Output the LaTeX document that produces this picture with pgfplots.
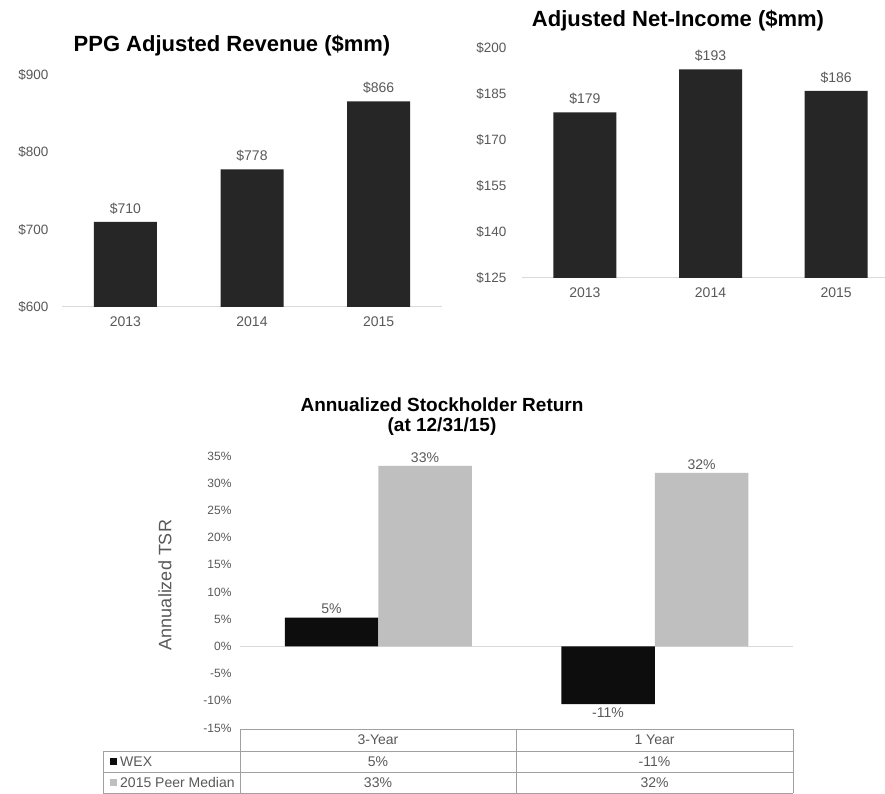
\documentclass[border=0pt]{standalone}
\usepackage{pgfplots}
\pgfplotsset{compat=1.18}
\usepackage{fontspec}
\setmainfont{Liberation Sans}
\definecolor{bardark}{HTML}{262626}
\definecolor{barblack}{HTML}{0D0D0D}
\definecolor{bargray}{HTML}{BFBFBF}
\definecolor{ticktxt}{HTML}{595959}
\definecolor{basegray}{HTML}{D9D9D9}
\definecolor{tablegray}{HTML}{A0A0A0}
\pgfplotsset{
  revstyle/.style={
    scale only axis, anchor=south west,
    xmin=-0.5, xmax=2.5,
    xtick={0,1,2}, xticklabels={2013,2014,2015},
    axis x line*=bottom, axis y line*=left,
    x axis line style={basegray, line width=1pt, -},
    y axis line style={draw=none},
    major tick length=0pt,
    ybar, bar width=63pt,
    /pgf/number format/assume math mode=true,
    xticklabel style={font=\fontsize{14}{16}\selectfont, text=ticktxt, yshift=-6pt},
    yticklabel style={font=\fontsize{13.5}{15}\selectfont, text=ticktxt, xshift=-10pt},
    point meta=y,
    nodes near coords={\$\pgfmathprintnumber{\pgfplotspointmeta}},
    nodes near coords style={font=\fontsize{14}{16}\selectfont, text=ticktxt, yshift=4pt},
    clip=false,
  }
}
\begin{document}
\begin{tikzpicture}[x=1pt,y=1pt]
\useasboundingbox (0,0) rectangle (885,794);
\fill[white] (0,0) rectangle (885,794);

% ---------- Chart 1 ----------
\node[font=\bfseries\fontsize{22}{24}\selectfont] at (232,748) {PPG Adjusted Revenue (\$mm)};
\begin{axis}[revstyle, at={(62pt,487pt)}, width=380pt, height=232pt,
  ymin=600, ymax=900, ytick={600,700,800,900},
  yticklabels={\$600,\$700,\$800,\$900}]
\addplot[fill=bardark, draw=none] coordinates {(0,710) (1,778) (2,866)};
\end{axis}

% ---------- Chart 2 ----------
\node[font=\bfseries\fontsize{22}{24}\selectfont] at (678,773) {Adjusted Net-Income (\$mm)};
\begin{axis}[revstyle, at={(522pt,516pt)}, width=377pt, height=230pt,
  ymin=125, ymax=200, ytick={125,140,155,170,185,200},
  yticklabels={\$125,\$140,\$155,\$170,\$185,\$200},
  yticklabel style={xshift=-2pt}]
\addplot[fill=bardark, draw=none] coordinates {(0,179) (1,193) (2,186)};
\end{axis}

% ---------- Chart 3 ----------
\node[font=\bfseries\fontsize{19}{21}\selectfont] at (442,389) {Annualized Stockholder Return};
\node[font=\bfseries\fontsize{19}{21}\selectfont] at (442,367) {(at 12/31/15)};
\node[rotate=90, font=\fontsize{18}{20}\selectfont, text=ticktxt] at (165,209) {Annualized TSR};
\begin{axis}[scale only axis, anchor=south west, at={(240pt,66pt)}, width=553pt, height=272pt,
  xmin=-0.5, xmax=1.5, ymin=-15, ymax=35,
  ytick={-15,-10,-5,0,5,10,15,20,25,30,35},
  yticklabels={-15\%,-10\%,-5\%,0\%,5\%,10\%,15\%,20\%,25\%,30\%,35\%},
  xtick=\empty,
  axis line style={draw=none},
  major tick length=0pt,
  yticklabel style={font=\fontsize{12}{14}\selectfont, text=ticktxt, xshift=-5pt},
  ybar=0pt, bar width=93.5pt,
  /pgf/number format/assume math mode=true,
  point meta=y,
  nodes near coords={\pgfmathprintnumber[fixed,precision=0]{\pgfplotspointmeta}\%},
  nodes near coords style={font=\fontsize{14}{16}\selectfont, text=ticktxt},
  clip=false]
\addplot[basegray, line width=1pt, sharp plot, nodes near coords={}, forget plot] coordinates {(-0.5,0) (1.5,0)};
\addplot[fill=barblack, draw=none] coordinates {(0,5.3) (1,-10.6)};
\addplot[fill=bargray, draw=none] coordinates {(0,33.2) (1,31.9)};
\end{axis}

% table
\begin{scope}[tablegray, line width=0.8pt]
\draw (240,65) -- (793,65);
\draw (103,43) -- (793,43);
\draw (103,22) -- (793,22);
\draw (103,1) -- (793,1);
\draw (103,1) -- (103,43);
\draw (240,1) -- (240,65);
\draw (516,1) -- (516,65);
\draw (793,1) -- (793,65);
\end{scope}
\begin{scope}[font=\fontsize{14}{16}\selectfont, text=ticktxt]
\node at (378,54) {3-Year};
\node at (654.5,54) {1 Year};
\node at (378,32.5) {5\%};
\node at (654.5,32.5) {-11\%};
\node at (378,11.5) {33\%};
\node at (654.5,11.5) {32\%};
\fill[barblack] (110,29) rectangle (117,36);
\node[anchor=west, inner sep=0pt] at (120,32.5) {WEX};
\fill[bargray] (110,8) rectangle (117,15);
\node[anchor=west, inner sep=0pt] at (120,11.5) {2015 Peer Median};
\end{scope}
\end{tikzpicture}
\end{document}
